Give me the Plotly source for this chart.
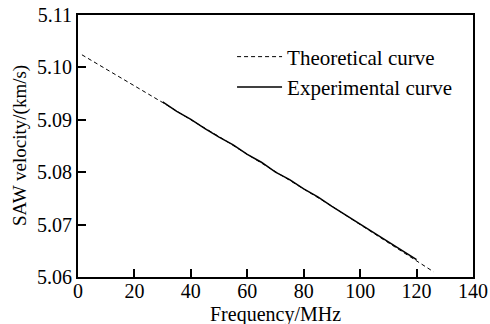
import plotly.graph_objects as go

# Theoretical curve (MHz, km/s)
theo_freq = [1.4, 10, 20, 30, 40, 50, 60, 70, 80, 90, 100, 110, 120, 126]
theo_vel = [5.1024, 5.0997, 5.0965, 5.0933, 5.0900, 5.0868, 5.0834, 5.0801, 5.0769, 5.0735, 5.0700, 5.0666, 5.0632, 5.0610]

# Experimental curve (MHz, km/s)
exp_freq = [30, 35, 40, 45, 50, 55, 60, 65, 70, 75, 80, 85, 90, 95, 100, 105, 110, 115, 120]
exp_vel = [5.0934, 5.0916, 5.0901, 5.0883, 5.0867, 5.0852, 5.0834, 5.0819, 5.0800, 5.0786, 5.0768, 5.0753, 5.0735, 5.0718, 5.0700, 5.0684, 5.0666, 5.0650, 5.0633]

x_title = "Frequency/MHz"
y_title = "SAW velocity/(km/s)"

FONT = "Liberation Serif, Times New Roman, DejaVu Serif, serif"

fig = go.Figure()
fig.add_trace(go.Scatter(x=theo_freq, y=theo_vel, mode="lines", name="Theoretical curve",
                         line=dict(color="black", width=1, dash="4px,3px")))
fig.add_trace(go.Scatter(x=exp_freq, y=exp_vel, mode="lines", name="Experimental curve",
                         line=dict(color="black", width=1.5)))

axis_common = dict(showline=True, linecolor="black", linewidth=2, mirror=True,
                   ticks="inside", ticklen=8, tickwidth=2, tickcolor="black",
                   showgrid=False, zeroline=False, automargin=False,
                   tickfont=dict(family=FONT, size=20, color="black"))

fig.update_xaxes(range=[0, 140], dtick=20, tick0=0, ticklabelstandoff=-5, **axis_common)
fig.update_yaxes(range=[5.06, 5.11], dtick=0.01, tick0=5.06, tickformat=".2f",
                 ticklabelstandoff=0, **axis_common)

fig.add_annotation(text=x_title, xref="paper", yref="paper", x=0.5, y=0, yshift=-37,
                   xanchor="center", yanchor="middle", showarrow=False, borderpad=0,
                   font=dict(family=FONT, size=20, color="black"))
fig.add_annotation(text=y_title, xref="paper", yref="paper", x=0, y=0.5, xshift=-58,
                   xanchor="center", yanchor="middle", showarrow=False, textangle=-90,
                   borderpad=0, font=dict(family=FONT, size=19, color="black"))

fig.update_layout(
    width=490, height=324,
    margin=dict(l=78, r=17, t=15, b=47),
    paper_bgcolor="white", plot_bgcolor="white",
    showlegend=True,
    legend=dict(x=0.39, y=0.918, xanchor="left", yanchor="top",
                bgcolor="rgba(0,0,0,0)", itemwidth=45,
                font=dict(family=FONT, size=21, color="black")),
)

fig.write_html("out.html")
